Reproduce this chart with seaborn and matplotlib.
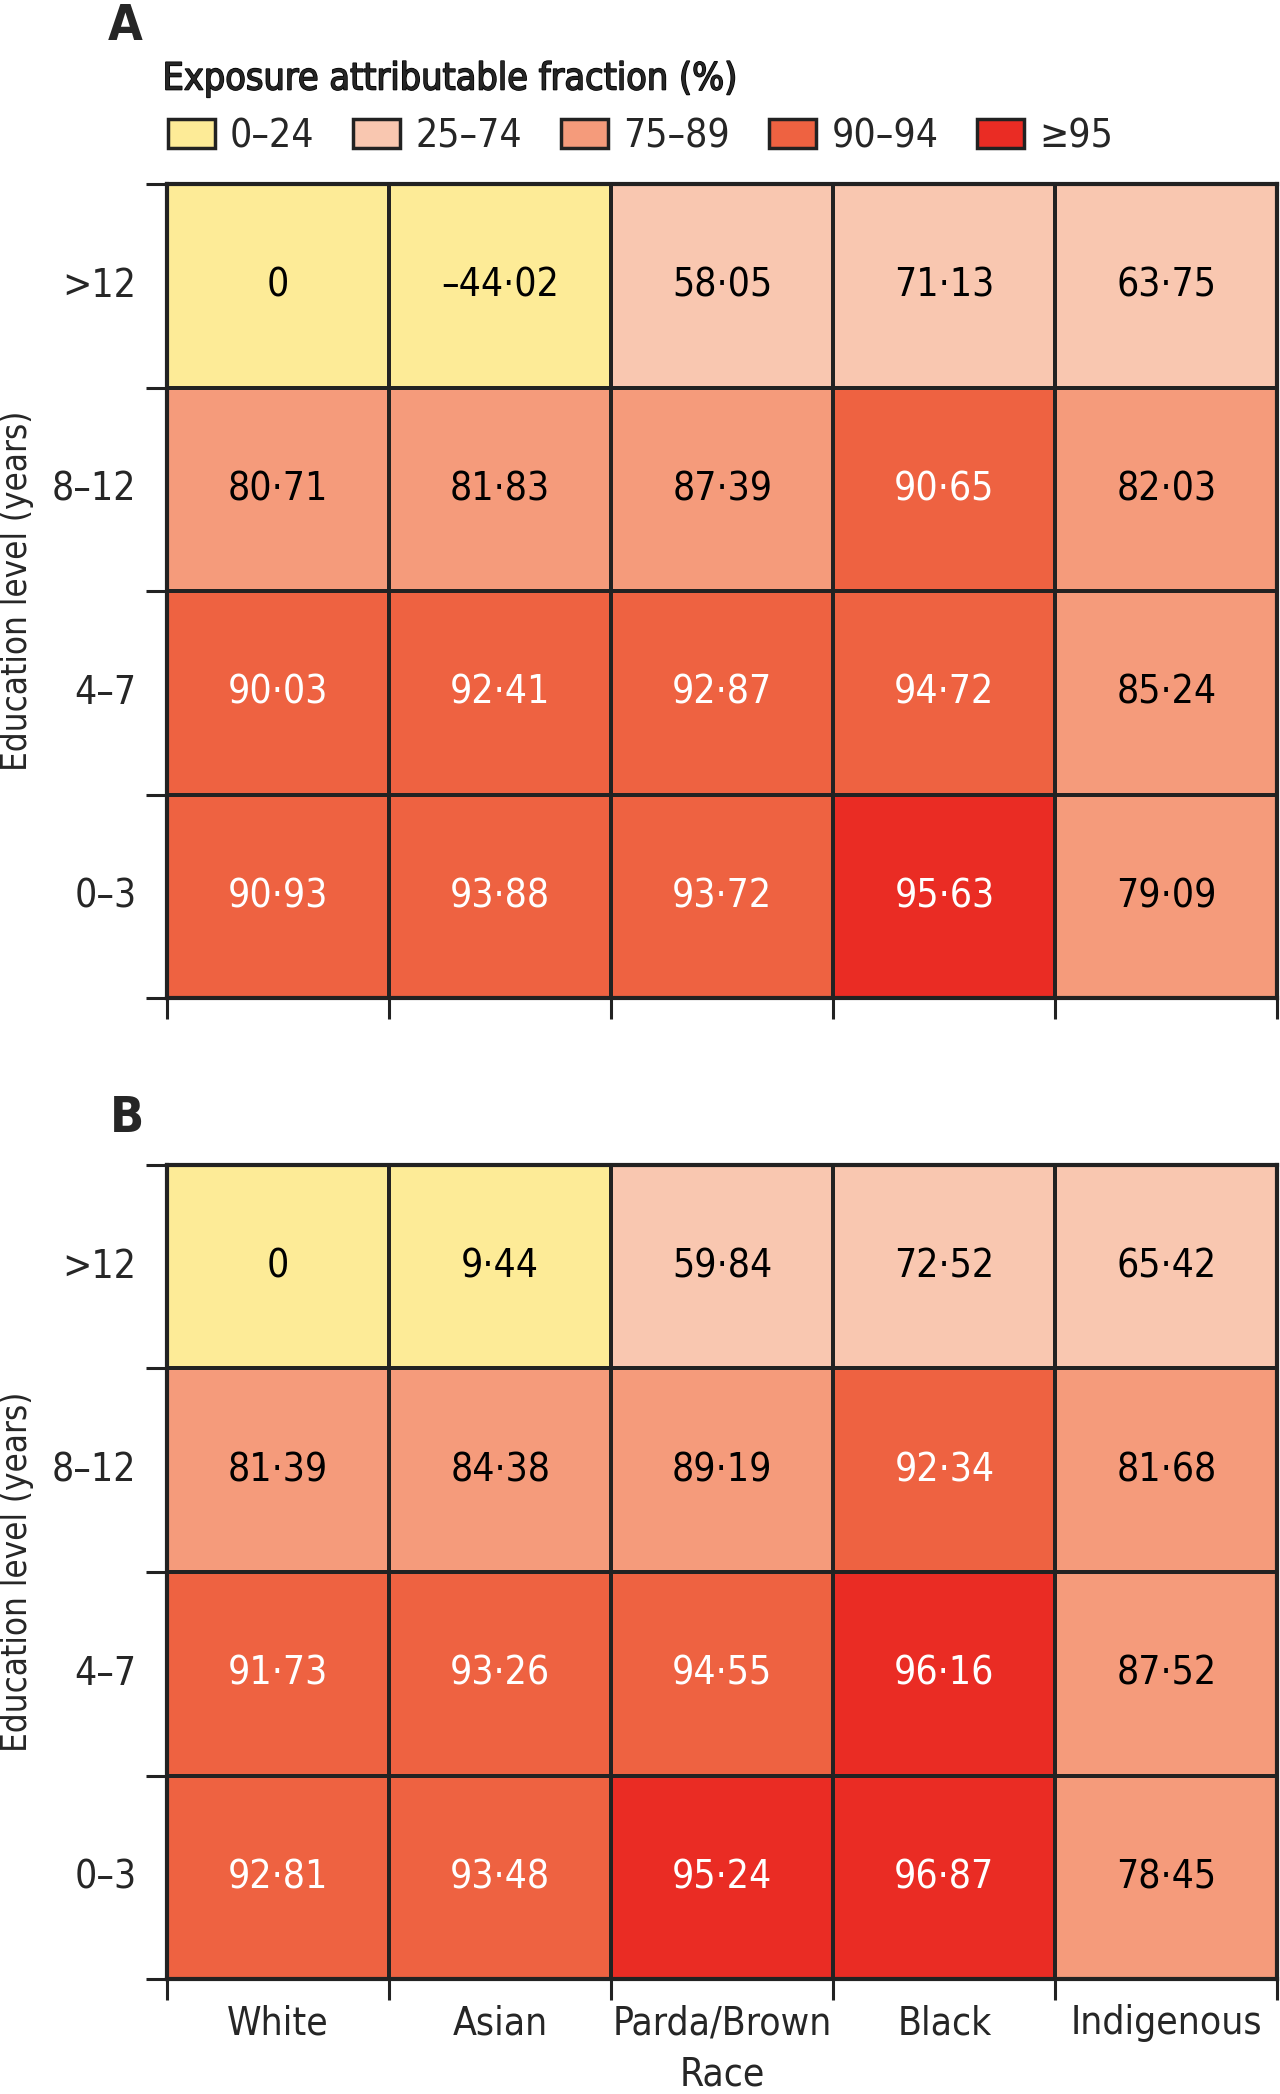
import matplotlib
matplotlib.use('Agg')
import matplotlib.pyplot as plt
import matplotlib.patheffects as pe
import seaborn as sns
import pandas as pd
from matplotlib import font_manager
from matplotlib.colors import ListedColormap, BoundaryNorm
from matplotlib.patches import Patch
from matplotlib.ticker import FixedLocator

# --- DATA --- #
races = ['White', 'Asian', 'Parda/Brown', 'Black', 'Indigenous']
education = ['>12', '8–12', '4–7', '0–3']

panel_a = [
    [0, -44.02, 58.05, 71.13, 63.75],
    [80.71, 81.83, 87.39, 90.65, 82.03],
    [90.03, 92.41, 92.87, 94.72, 85.24],
    [90.93, 93.88, 93.72, 95.63, 79.09],
]
panel_b = [
    [0, 9.44, 59.84, 72.52, 65.42],
    [81.39, 84.38, 89.19, 92.34, 81.68],
    [91.73, 93.26, 94.55, 96.16, 87.52],
    [92.81, 93.48, 95.24, 96.87, 78.45],
]

bin_labels = ['0–24', '25–74', '75–89', '90–94', '≥95']
bin_edges = [-1000, 25, 75, 90, 95, 1000]
bin_colors = ['#FDEB97', '#F9C7B0', '#F59B7B', '#EE6241', '#EA2C24']

sns.set_style('white')

# --- FONT: look for a narrow face, else fall back to Lato --- #
def is_narrow(f):
    return ('Narrow' in f.name or 'Condensed' in f.name
            or f.stretch in ('condensed', 'semi-condensed', 'extra-condensed'))


narrow_fonts = [f for f in font_manager.fontManager.ttflist
                if f.style == 'normal' and is_narrow(f)]
regular = next((f for f in narrow_fonts if f.weight in (400, 'normal', 'regular')), None)

if regular is not None:
    plt.rcParams['font.family'] = [regular.name, 'DejaVu Sans']
    plt.rcParams['font.stretch'] = regular.stretch
else:
    plt.rcParams['font.family'] = ['Lato', 'DejaVu Sans']
fs = 28

cmap = ListedColormap(bin_colors)
norm = BoundaryNorm(bin_edges, cmap.N)
edge = '#222222'


def fmt(v):
    if v == 0:
        return '0'
    s = f'{abs(v):.2f}'.replace('.', '·')
    return ('–' + s) if v < 0 else s


def draw_panel(ax, values, show_xlabels):
    df = pd.DataFrame(values, index=education, columns=races)
    labels = df.map(fmt)
    sns.heatmap(df, ax=ax, cmap=cmap, norm=norm, cbar=False, annot=labels, fmt='',
                linewidths=2.8, linecolor=edge, annot_kws={'fontsize': fs})
    # white text on the darker bins
    for t, v in zip(ax.texts, df.values.flatten()):
        t.set_color('white' if v >= 90 else 'black')
    for s in ax.spines.values():
        s.set_visible(True)
        s.set_linewidth(3)
        s.set_color(edge)
    # tick marks on the cell boundaries, labels in the middle
    ax.xaxis.set_minor_locator(FixedLocator(range(len(races) + 1)))
    ax.yaxis.set_minor_locator(FixedLocator(range(len(education) + 1)))
    ax.tick_params(which='minor', bottom=True, left=True, length=15, width=2.2, color=edge)
    ax.tick_params(which='major', length=0, labelsize=fs)
    ax.tick_params(axis='y', which='major', pad=22, rotation=0)
    ax.tick_params(axis='x', which='major', pad=18)
    ax.set_yticklabels(education, rotation=0, ha='right')
    if show_xlabels:
        ax.set_xticklabels(races, rotation=0)
        ax.set_xlabel('Race', fontsize=fs, labelpad=10)
    else:
        ax.set_xticklabels([])
        ax.set_xlabel('')
    ax.set_ylabel('Education level (years)', fontsize=fs - 3)
    ax.yaxis.set_label_coords(-0.12, 0.5)


fig = plt.figure(figsize=(12.8, 20.94), dpi=100)
ax_a = fig.add_axes([0.1305, 0.5234, 0.8675, 0.3887])
ax_b = fig.add_axes([0.1305, 0.0549, 0.8675, 0.3888])

draw_panel(ax_a, panel_a, False)
draw_panel(ax_b, panel_b, True)

fig.text(0.084, 0.999, 'A', fontsize=fs + 8, fontweight='bold', va='top')
fig.text(0.086, 0.4775, 'B', fontsize=fs + 8, fontweight='bold', va='top')

# semibold look on the narrow face
fig.text(0.127, 0.962, 'Exposure attributable fraction (%)', va='center', fontsize=fs - 1,
         path_effects=[pe.withStroke(linewidth=1.1, foreground='black')])
handles = [Patch(facecolor=c, edgecolor=edge, linewidth=2.5, label=l)
           for c, l in zip(bin_colors, bin_labels)]
fig.legend(handles=handles, loc='center left', bbox_to_anchor=(0.119, 0.935),
           ncol=5, frameon=False, fontsize=fs, handlelength=1.2, handleheight=0.75,
           handletextpad=0.4, columnspacing=1.0, borderaxespad=0)

fig.savefig('out.png', dpi=100)
